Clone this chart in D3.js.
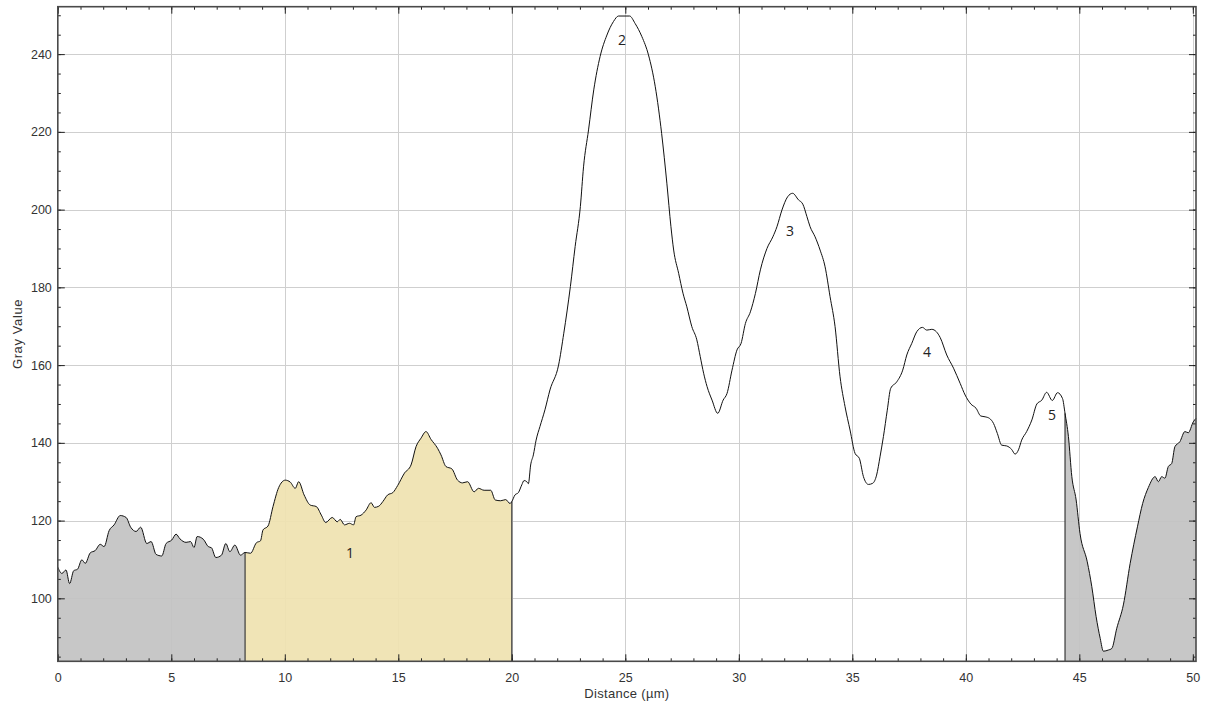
<!DOCTYPE html>
<html>
<head>
<meta charset="utf-8">
<script src="https://cdn.jsdelivr.net/npm/d3@7"></script>
<style>
  html, body { margin: 0; padding: 0; background: #fff; }
  svg { display: block; font-family: "Liberation Sans", Arial, sans-serif; }
</style>
</head>
<body>
<svg id="chart" width="1207" height="709"></svg>
<script>
// ---- data ----
const distance = [
  0.00,0.18,0.36,0.52,0.70,0.87,1.06,1.21,1.43,1.65,1.87,2.04,2.26,2.48,2.75,3.01,3.21,3.45,3.65,3.92,
  4.11,4.33,4.58,4.77,5.02,5.21,5.38,5.65,5.85,6.00,6.14,6.41,6.63,6.77,6.96,7.21,7.40,7.58,7.80,8.05,
  8.25,8.49,8.75,8.93,9.04,9.26,9.48,9.73,10.02,10.24,10.46,10.61,10.85,11.12,11.39,11.61,11.80,12.09,12.31,12.44,
  12.63,12.85,13.03,13.14,13.36,13.58,13.80,13.95,14.14,14.32,14.53,14.76,14.97,15.27,15.56,15.78,16.00,16.22,16.44,16.73,
  16.88,17.10,17.36,17.61,17.83,18.05,18.34,18.53,18.78,19.07,19.27,19.51,19.73,19.92,20.00,20.14,20.29,20.44,20.54,20.66,
  20.73,20.83,20.95,21.07,21.24,21.46,21.68,22.06,22.29,22.58,22.79,23.02,23.16,23.38,23.61,23.89,24.19,24.48,24.70,25.19,
  25.43,25.73,26.02,26.32,26.60,26.83,27.01,27.13,27.35,27.54,27.71,27.93,28.15,28.30,28.45,28.60,28.82,29.07,29.31,29.48,
  29.70,29.92,30.10,30.29,30.51,30.73,30.95,31.24,31.50,31.68,31.90,32.15,32.37,32.63,32.82,33.00,33.14,33.36,33.58,33.80,
  34.02,34.24,34.46,34.68,34.90,35.12,35.31,35.49,35.71,35.90,36.07,36.22,36.37,36.54,36.69,36.96,37.22,37.40,37.62,37.84,
  38.09,38.28,38.50,38.70,38.87,39.16,39.46,39.75,39.97,40.22,40.45,40.66,40.85,41.04,41.22,41.39,41.58,41.80,42.02,42.17,
  42.32,42.46,42.68,42.91,43.13,43.35,43.56,43.81,44.04,44.26,44.37,44.52,44.67,44.86,45.03,45.35,45.55,45.74,45.92,46.06,
  46.28,46.43,46.65,46.94,47.24,47.56,47.79,48.04,48.34,48.48,48.63,48.77,48.92,49.07,49.21,49.43,49.65,49.80,50.02,50.14
];
const grayValue = [
  108.0,106.4,107.3,103.8,107.1,107.5,109.9,109.0,111.7,112.3,113.9,113.3,117.4,118.9,121.3,120.8,118.3,117.2,118.3,114.1,
  114.6,111.3,110.9,114.1,115.0,116.5,115.3,114.4,114.6,113.1,115.9,115.2,113.3,113.0,110.5,111.1,114.1,112.0,113.7,111.1,
  111.8,111.6,114.3,114.8,117.6,118.6,123.6,128.5,130.4,129.9,128.3,130.0,126.6,124.0,123.6,121.4,119.5,120.8,119.7,120.3,
  118.9,119.3,118.9,121.0,121.4,122.7,124.6,123.4,123.7,124.9,126.6,127.2,129.0,132.2,134.3,139.0,141.2,142.9,140.9,138.6,
  136.9,133.9,133.3,130.4,129.7,130.0,127.4,128.3,127.8,127.8,125.3,125.1,125.4,124.4,124.9,126.6,127.2,129.2,130.3,130.0,
  129.5,134.3,136.9,140.7,144.2,148.5,153.6,160.0,168.2,180.2,190.5,200.8,211.0,220.5,230.8,239.4,244.9,248.4,249.8,249.8,
  247.9,244.5,239.8,231.6,219.6,206.8,195.6,189.6,183.6,178.5,175.0,169.9,166.5,162.2,157.9,154.5,151.0,147.6,151.0,152.7,
  158.7,163.9,165.6,170.7,173.7,178.4,184.5,190.0,193.0,195.6,199.9,203.3,204.2,202.5,201.4,198.2,195.6,193.0,189.6,185.3,
  177.6,169.9,157.0,149.3,143.3,137.3,136.0,131.3,129.3,129.6,131.7,136.4,141.6,148.4,154.0,155.7,158.7,162.6,165.6,168.6,
  169.7,169.0,169.2,168.6,167.1,162.6,159.2,155.3,152.3,150.0,148.9,146.9,146.7,146.3,145.0,142.4,139.4,139.2,138.3,137.1,
  138.2,140.7,142.9,145.9,150.0,151.0,153.0,150.9,152.9,151.4,147.6,141.6,131.3,125.3,116.7,109.4,103.0,95.3,89.7,86.4,
  86.7,87.1,92.3,98.3,109.0,118.4,124.4,128.5,131.3,130.0,131.3,130.9,133.9,134.7,139.0,140.3,142.9,142.6,145.4,146.3
];
// highlighted regions: [start, end, colour]
const regionStart = [0, 8.25, 44.37];
const regionEnd   = [8.25, 20.0, 50.14];
const regionColor = ["#c3c3c3", "#efe2b0", "#c3c3c3"];
// peak labels
const peakText = ["1", "2", "3", "4", "5"];
const peakX    = [12.87, 24.85, 32.25, 38.29, 43.80];
const peakY    = [111.7, 243.7, 194.5, 163.6, 147.4];
// axes
const xDomain = [0, 50.14];
const yDomain = [83.8, 252.2];
const xMajorTicks = [0, 5, 10, 15, 20, 25, 30, 35, 40, 45, 50];
const yMajorTicks = [100, 120, 140, 160, 180, 200, 220, 240];
const xTitle = "Distance (µm)";
const yTitle = "Gray Value";

// ---- drawing ----
const svg = d3.select("#chart");
const L = 57.8, R = 1196, T = 6.7, B = 661.3;
const x = d3.scaleLinear().domain(xDomain).range([L, R]);
const y = d3.scaleLinear().domain(yDomain).range([B, T]);
const pts = distance.map((d, i) => [d, grayValue[i]]);
const interp = v => {
  for (let i = 1; i < pts.length; i++) {
    if (pts[i][0] >= v) {
      const [x0, y0] = pts[i - 1], [x1, y1] = pts[i];
      return y0 + (y1 - y0) * (v - x0) / (x1 - x0);
    }
  }
  return pts[pts.length - 1][1];
};
const xMinor = d3.range(0, 51, 1).filter(v => v <= xDomain[1]);
const yMinor = d3.range(85, 251, 5);
const curve = d3.curveMonotoneX;

// grid
const grid = svg.append("g");
grid.selectAll("line.gx").data(xMajorTicks.filter(v => v > 0)).join("line")
  .attr("x1", d => Math.round(x(d)) + 0.5).attr("x2", d => Math.round(x(d)) + 0.5)
  .attr("y1", T).attr("y2", B).attr("stroke", "#cfcfcf").attr("stroke-width", 1);
grid.selectAll("line.gy").data(yMajorTicks).join("line")
  .attr("y1", d => Math.round(y(d)) + 0.5).attr("y2", d => Math.round(y(d)) + 0.5)
  .attr("x1", L).attr("x2", R).attr("stroke", "#cfcfcf").attr("stroke-width", 1);

// filled regions
const area = d3.area().curve(curve).x(d => x(d[0])).y0(B).y1(d => y(d[1]));
regionStart.forEach((s, k) => {
  const e = regionEnd[k];
  const seg = [[s, interp(s)]].concat(pts.filter(p => p[0] > s && p[0] < e)).concat([[e, interp(e)]]);
  svg.append("path").datum(seg).attr("d", area)
    .attr("fill", regionColor[k]).attr("fill-opacity", 0.93);
});
// region edges
const edges = [regionEnd[0], regionEnd[1], regionStart[2]];
svg.selectAll("line.edge").data(edges).join("line")
  .attr("x1", d => x(d)).attr("x2", d => x(d))
  .attr("y1", B).attr("y2", d => y(interp(d)))
  .attr("stroke", "#3a3a3a").attr("stroke-width", 1.2);

// profile line
svg.append("path").datum(pts)
  .attr("d", d3.line().curve(curve).x(d => x(d[0])).y(d => y(d[1])))
  .attr("fill", "none").attr("stroke", "#111").attr("stroke-width", 1);

// axes (ticks pointing inward)
const tickCol = "#222";
function styleAxis(g) {
  g.select(".domain").remove();
  g.selectAll(".tick line").attr("stroke", tickCol);
  g.selectAll("text").attr("fill", "#333").style("font-size", "12.5px")
    .style("font-family", "'Liberation Sans', Arial, sans-serif");
}
svg.append("g").attr("transform", `translate(0,${B})`)
  .call(d3.axisBottom(x).tickValues(xMinor).tickSize(-3).tickFormat(""))
  .call(styleAxis);
svg.append("g").attr("transform", `translate(0,${B})`)
  .call(d3.axisBottom(x).tickValues(xMajorTicks).tickSize(-7).tickPadding(12).tickFormat(d3.format("d")))
  .call(styleAxis);
svg.append("g").attr("transform", `translate(0,${T})`)
  .call(d3.axisTop(x).tickValues(xMinor).tickSize(-3).tickFormat(""))
  .call(styleAxis);
svg.append("g").attr("transform", `translate(0,${T})`)
  .call(d3.axisTop(x).tickValues(xMajorTicks).tickSize(-7).tickFormat(""))
  .call(styleAxis);
svg.append("g").attr("transform", `translate(${L},0)`)
  .call(d3.axisLeft(y).tickValues(yMinor).tickSize(-3).tickFormat(""))
  .call(styleAxis);
svg.append("g").attr("transform", `translate(${L},0)`)
  .call(d3.axisLeft(y).tickValues(yMajorTicks).tickSize(-7).tickPadding(6).tickFormat(d3.format("d")))
  .call(styleAxis);
svg.append("g").attr("transform", `translate(${R},0)`)
  .call(d3.axisRight(y).tickValues(yMinor).tickSize(-3).tickFormat(""))
  .call(styleAxis);
svg.append("g").attr("transform", `translate(${R},0)`)
  .call(d3.axisRight(y).tickValues(yMajorTicks).tickSize(-7).tickFormat(""))
  .call(styleAxis);

// frame
svg.append("rect").attr("x", L).attr("y", T).attr("width", R - L).attr("height", B - T)
  .attr("fill", "none").attr("stroke", "#4a4a4a").attr("stroke-width", 1.6);

// peak labels
svg.selectAll("text.peak").data(peakText).join("text")
  .attr("x", (d, i) => x(peakX[i])).attr("y", (d, i) => y(peakY[i]))
  .attr("text-anchor", "middle").attr("dominant-baseline", "central")
  .attr("fill", "#222").style("font-size", "14px")
  .style("font-family", "'Open Sans', 'DejaVu Sans', sans-serif")
  .text(d => d);

// titles
svg.append("text").attr("x", (L + R) / 2).attr("y", 698)
  .attr("text-anchor", "middle").attr("fill", "#333").style("font-size", "13px")
  .style("letter-spacing", "0.3px").text(xTitle);
svg.append("text").attr("transform", `translate(21.5,${(T + B) / 2}) rotate(-90)`)
  .attr("text-anchor", "middle").attr("fill", "#333").style("font-size", "13px")
  .style("letter-spacing", "0.6px").text(yTitle);
</script>
</body>
</html>
